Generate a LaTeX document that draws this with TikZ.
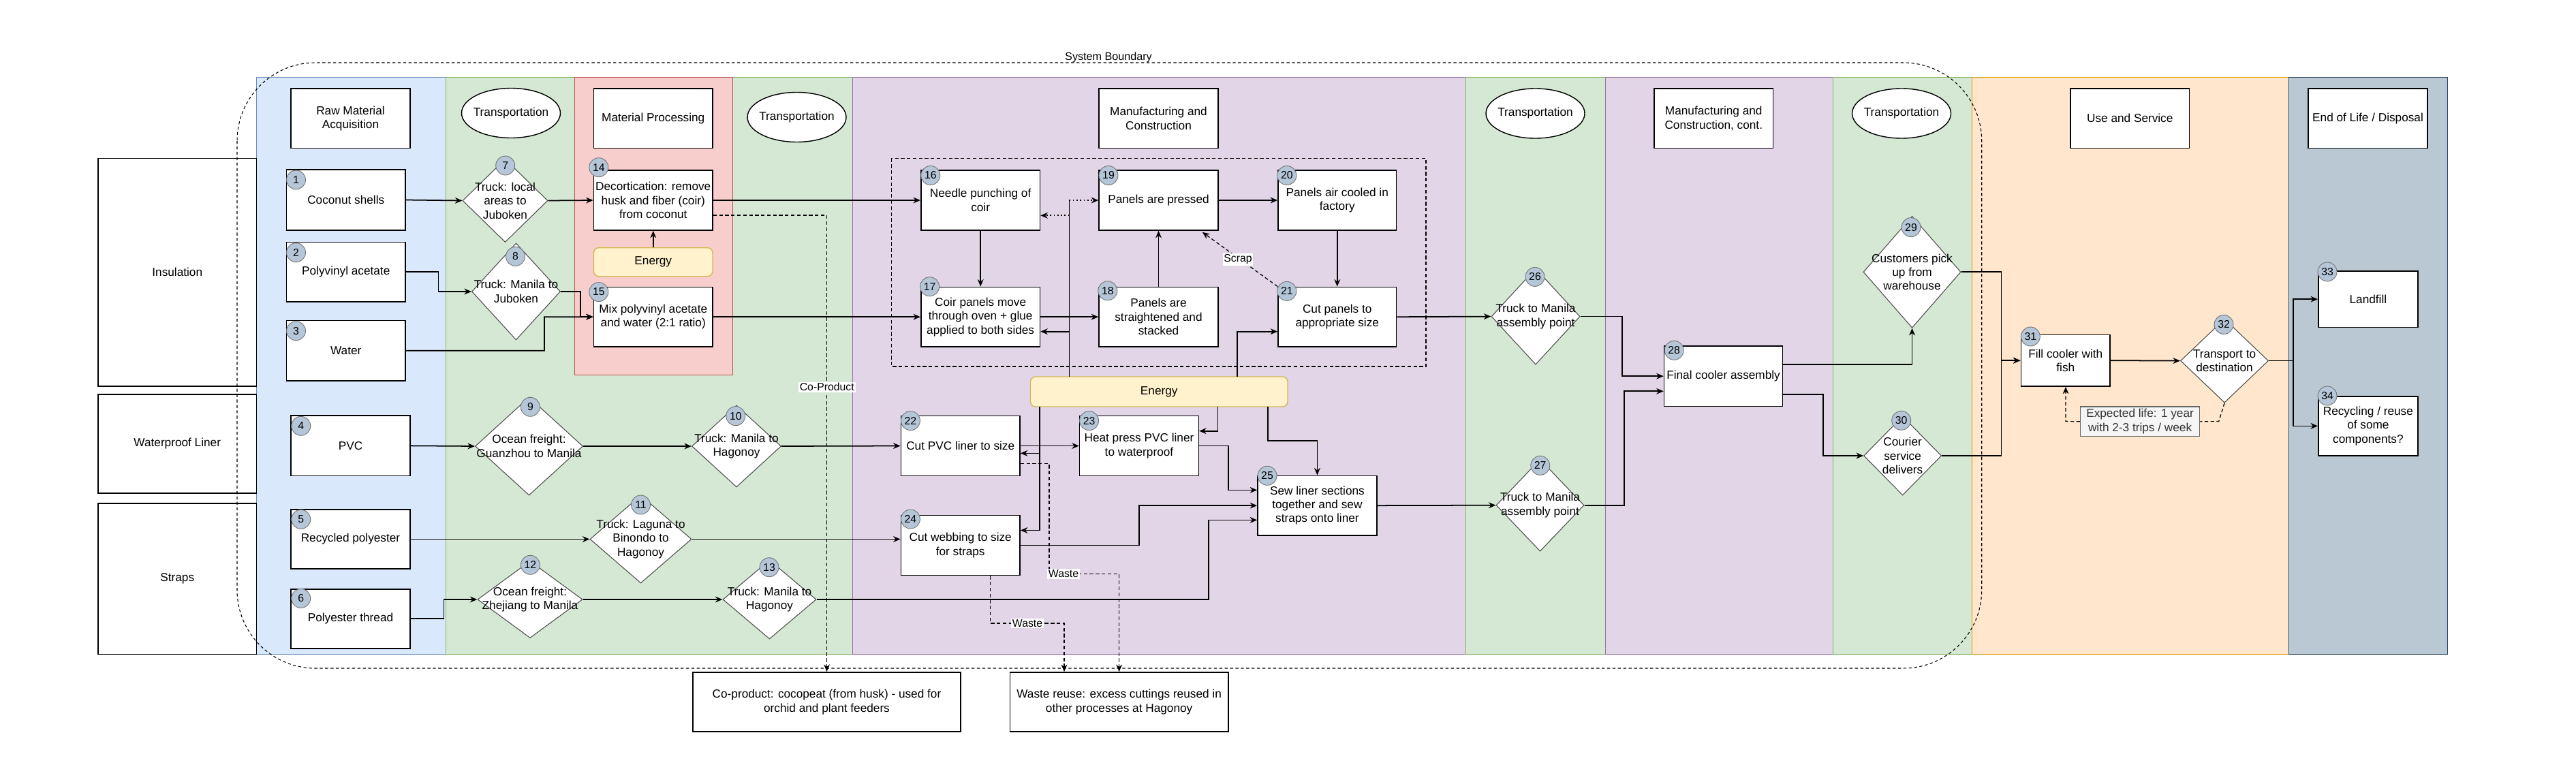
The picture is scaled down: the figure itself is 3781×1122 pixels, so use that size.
\documentclass[tikz,border=0pt]{standalone}
\usepackage{fontspec}
\setmainfont{Liberation Sans}
\usetikzlibrary{shapes.geometric,arrows.meta}
\definecolor{lblue}{HTML}{DAE8FC}\definecolor{dblue}{HTML}{6C8EBF}
\definecolor{lgreen}{HTML}{D5E8D4}\definecolor{dgreen}{HTML}{82B366}
\definecolor{lred}{HTML}{F8CECC}\definecolor{dred}{HTML}{B85450}
\definecolor{lpurple}{HTML}{E1D5E7}\definecolor{dpurple}{HTML}{9673A6}
\definecolor{lorange}{HTML}{FFE6CC}\definecolor{dorange}{HTML}{D79B00}
\definecolor{lslate}{HTML}{BAC8D3}\definecolor{dslate}{HTML}{23445D}
\definecolor{lyellow}{HTML}{FFF2CC}\definecolor{dyellow}{HTML}{D6B656}
\definecolor{numfill}{HTML}{B4C6D8}
\definecolor{expfill}{HTML}{F5F5F5}\definecolor{expdraw}{HTML}{666666}
\newcommand{\PN}[7]{\node[#1,minimum width={(#5-#3)*0.02cm},minimum height={(#6-#4)*0.02cm}] (#2) at ({(#3+#5)/2},{(#4+#6)/2}) {#7};}
\newcommand{\DN}[6]{\node[dia,minimum width={#4*0.02cm},minimum height={#5*0.02cm}] (#1) at (#2,#3) {};\node[txt] (#1t) at (#2,#3) {#6};}
\newcommand{\EN}[4]{\node[ell,minimum width=2.9cm,minimum height=1.46cm] (#1) at (#2,#3) {};\node[txt] (#1t) at (#2,#3) {#4};}
\newcommand{\CN}[4]{\node[numc] (#1) at (#2,#3) {#4};}
\tikzset{
  pbox/.style={draw=black,fill=white,line width=0.9pt,align=center,inner sep=1pt},
  rowb/.style={draw=black,fill=white,line width=0.9pt,align=center,inner sep=1pt},
  dia/.style={shape=diamond,draw=black!70,fill=white,line width=0.6pt,inner sep=0pt},
  txt/.style={align=center,inner sep=0pt},
  ell/.style={shape=ellipse,draw=black,fill=white,line width=0.8pt,inner sep=0pt},
  energy/.style={draw=dyellow,fill=lyellow,rounded corners=0.15cm,line width=0.8pt,align=center},
  expb/.style={draw=expdraw,fill=expfill,text=black!80,line width=0.7pt,align=center,inner sep=1pt},
  numc/.style={circle,draw=black!55,fill=numfill,minimum size=0.56cm,inner sep=0pt,font=\fontsize{9}{10}\selectfont,line width=0.5pt},
  arr/.style={-{Stealth[length=6pt,width=5pt]},line width=1pt},
  ln/.style={line width=1pt},
  dsh/.style={dash pattern=on 3pt off 2pt,line width=0.7pt},
  lbl/.style={fill=white,inner sep=1pt,font=\fontsize{9}{10}\selectfont},
  lane/.style={line width=0.5pt}
}
\begin{document}
\begin{tikzpicture}[x=0.02cm,y=-0.02cm,font=\fontsize{9.8}{11.6}\selectfont]
\useasboundingbox (0,0) rectangle (3781,1122);
% lanes
\filldraw[lane,fill=lblue,draw=dblue] (376.5,113) rectangle (654,960);
\filldraw[lane,fill=lgreen,draw=dgreen] (654,113) rectangle (1251,960);
\filldraw[lane,fill=lred,draw=dred] (843,113) rectangle (1075,550);
\filldraw[lane,fill=lpurple,draw=dpurple] (1251,113) rectangle (2151.5,960);
\filldraw[lane,fill=lgreen,draw=dgreen] (2151.5,113) rectangle (2356,960);
\filldraw[lane,fill=lpurple,draw=dpurple] (2356,113) rectangle (2690,960);
\filldraw[lane,fill=lgreen,draw=dgreen] (2690,113) rectangle (2894,960);
\filldraw[lane,fill=lorange,draw=dorange] (2894,113) rectangle (3359,960);
\filldraw[lane,fill=lslate,draw=dslate] (3359,113) rectangle (3592,960);
% row labels
\PN{rowb}{rIns}{144}{232.5}{376.5}{567}{Insulation}
\PN{rowb}{rWat}{144}{579}{376.5}{724}{Waterproof Liner}
\PN{rowb}{rStr}{144}{739}{376.5}{960.5}{Straps}
% system boundary
\draw[dash pattern=on 2.5pt off 2pt,line width=0.6pt,rounded corners=2.3cm] (348,92) rectangle (2908.7,981);
\node[font=\fontsize{9.2}{10}\selectfont,inner sep=1pt] (sbl) at (1627,84) {System Boundary};
% dashed group box
\draw[dash pattern=on 3pt off 2pt,line width=0.7pt] (1308.4,232.5) rectangle (2093,538);
% headers
\PN{pbox}{hRaw}{427}{130}{602}{217.5}{Raw Material\\Acquisition}
\PN{pbox}{hMat}{871.5}{130}{1046}{217.5}{Material Processing}
\PN{pbox}{hMan}{1613}{130}{1788}{217.5}{Manufacturing and\\Construction}
\PN{pbox}{hMan2}{2428}{130}{2602.5}{217.5}{Manufacturing and\\Construction, cont.}
\PN{pbox}{hUse}{3039}{130}{3213.5}{217.5}{Use and Service}
\PN{pbox}{hEnd}{3388}{130}{3563}{217.5}{End of Life / Disposal}
\EN{e1}{750}{166}{Transportation}
\EN{e2}{1169.5}{172}{Transportation}
\EN{e3}{2253.5}{166.5}{Transportation}
\EN{e4}{2791}{166.5}{Transportation}
% process boxes
\PN{pbox}{n1}{420.5}{249}{595}{338}{Coconut shells}
\PN{pbox}{n2}{420.5}{355.7}{595}{443}{Polyvinyl acetate}
\PN{pbox}{n3}{420.5}{470.7}{595}{559}{Water}
\PN{pbox}{n4}{427}{610}{602}{698.7}{PVC}
\PN{pbox}{n5}{427}{748}{602}{835}{Recycled polyester}
\PN{pbox}{n6}{427}{864.7}{602}{951.7}{Polyester thread}
\PN{pbox}{n14}{871.5}{250}{1046}{338}{Decortication: remove\\husk and fiber (coir)\\from coconut}
\PN{energy}{en1}{871.5}{363.6}{1046}{405.7}{Energy}
\PN{pbox}{n15}{871.5}{421.4}{1046}{509}{Mix polyvinyl acetate\\and water (2:1 ratio)}
\PN{pbox}{n16}{1351.8}{250}{1526.5}{338}{Needle punching of\\coir}
\PN{pbox}{n19}{1613}{250}{1788}{338}{Panels are pressed}
\PN{pbox}{n20}{1876}{250}{2049.5}{338}{Panels air cooled in\\factory}
\PN{pbox}{n17}{1351.8}{421.4}{1526.5}{509}{Coir panels move\\through oven + glue\\applied to both sides}
\PN{pbox}{n18}{1613}{421.4}{1788}{509}{Panels are\\straightened and\\stacked}
\PN{pbox}{n21}{1876}{421.4}{2049.5}{509}{Cut panels to\\appropriate size}
\PN{energy}{en2}{1512.5}{553}{1890}{597}{Energy}
\PN{pbox}{n22}{1322.4}{610.7}{1497}{698.3}{Cut PVC liner to size}
\PN{pbox}{n23}{1584.6}{610.7}{1759.3}{698.3}{Heat press PVC liner\\to waterproof}
\PN{pbox}{n24}{1322.4}{756.5}{1497}{844.5}{Cut webbing to size\\for straps}
\PN{pbox}{n25}{1846}{698.3}{2020.8}{786}{Sew liner sections\\together and sew\\straps onto liner}
\PN{pbox}{coprod}{1017}{986.7}{1410}{1074}{Co-product: cocopeat (from husk) - used for\\orchid and plant feeders}
\PN{pbox}{waste}{1482.5}{986.9}{1802.7}{1074}{Waste reuse: excess cuttings reused in\\other processes at Hagonoy}
\PN{pbox}{n28}{2442.5}{508}{2616.6}{596.4}{Final cooler assembly}
\PN{pbox}{n31}{2966.3}{491.4}{3097.2}{567}{Fill cooler with\\fish}
\PN{pbox}{n33}{3402.8}{398}{3548.9}{480.4}{Landfill}
\PN{pbox}{n34}{3402.8}{581.8}{3548.9}{669}{Recycling / reuse\\of some\\components?}
\PN{expb}{exp}{3053.4}{597}{3228.7}{640.3}{Expected life: 1 year\\with 2-3 trips / week}
% diamonds
\DN{d7}{741.5}{294.5}{125}{122}{Truck: local\\areas to\\Juboken}
\DN{d8}{757.5}{428}{130}{142}{Truck: Manila to\\Juboken}
\DN{d9}{776.5}{655}{158}{144}{Ocean freight:\\Guanzhou to Manila}
\DN{d10}{1081}{655}{131}{120}{Truck: Manila to\\Hagonoy}
\DN{d11}{940.5}{791.5}{149}{129}{Truck: Laguna to\\Binondo to\\Hagonoy}
\DN{d12}{778}{880}{154}{113}{Ocean freight:\\Zhejiang to Manila}
\DN{d13}{1129.5}{880}{137}{116}{Truck: Manila to\\Hagonoy}
\DN{d26}{2254}{464.6}{130}{141}{Truck to Manila\\assembly point}
\DN{d27}{2260.5}{741.7}{129}{135}{Truck to Manila\\assembly point}
\DN{d29}{2806.5}{399.3}{143}{164}{Customers pick\\up from\\warehouse}
\DN{d30}{2792.6}{669}{114}{116}{Courier\\service\\delivers}
\DN{d32}{3265}{529.6}{129}{123}{Transport to\\destination}
% connectors upper
\draw[arr] (n1.east) -- (d7.west);
\draw[arr] (d7.east) -- (n14.west);
\draw[arr] (n2.east) -- (643.5,399.35) |- (d8.west);
\draw[arr] (d8.east) -- (851.7,428) |- (n15.west);
\draw[arr] (n3.east) -- (799,514.85) |- (n15.west);
\draw[arr] (en1.north) -- (n14.south);
\draw[arr] (n14.east) -- (n16.west);
\draw[arr] (n15.east) -- (n17.west);
\draw[arr] (n16.south) -- (n17.north);
\draw[arr] (n17.east) -- (n18.west);
\draw[arr] (n18.north) -- (n19.south);
\draw[arr] (n19.east) -- (n20.west);
\draw[arr] (n20.south) -- (n21.north);
\draw[arr,dsh] (n21.north west) -- ([xshift=-0.48cm,yshift=-0.04cm]n19.south east);
\draw[arr] (n21.east) -- (d26.west);
% energy (big) up
\coordinate (ea) at (1569.4,553);
\coordinate (ea1) at (1569.4,294);
\coordinate (ea2) at (1569.4,316.3);
\coordinate (ea3) at (1569.4,486.7);
\draw[ln] (ea) -- (ea1);
\draw[arr,dotted] (ea1) -- (n19.west);
\draw[arr,dotted] (ea2) -- (n16.east |- ea2);
\draw[arr] (ea3) -- (n17.east |- ea3);
\coordinate (eb) at (1815.8,553);
\coordinate (eb1) at (1815.8,486.7);
\draw[arr] (eb) -- (eb1) -- (n21.west |- eb1);
% energy (big) down
\coordinate (ec) at (1525.9,597);
\coordinate (ec1) at (1525.9,665.4);
\coordinate (ec2) at (1525.9,778.5);
\draw[ln] (ec) -- (ec2);
\draw[arr] (ec1) -- (n22.east |- ec1);
\draw[arr] (ec2) -- (n24.east |- ec2);
\coordinate (ed) at (1787.5,597);
\coordinate (ed1) at (1787.5,632.7);
\draw[arr] (ed) -- (ed1) -- (n23.east |- ed1);
\coordinate (ee) at (1860.7,597);
\coordinate (ee1) at (1860.7,647);
\draw[arr] (ee) -- (ee1) -| (n25.north);
% lower lanes
\draw[arr] (n4.east) -- (d9.west);
\draw[arr] (d9.east) -- (d10.west);
\draw[arr] (d10.east) -- (n22.west);
\draw[arr] (n5.east) -- (d11.west);
\draw[arr] (d11.east) -- (n24.west |- d11.east);
\draw[arr] (n6.east) -- (651.5,908.2) |- (d12.west);
\draw[arr] (d12.east) -- (d13.west);
\coordinate (f1) at (1774,763.4);
\draw[arr] (d13.east) -| (f1) -- (n25.west |- f1);
\coordinate (f2) at (1672,742.15);
\draw[arr] (n24.east) -| (f2) -- (n25.west);
\coordinate (f3) at (1802.7,719.4);
\draw[arr] (n23.east) -| (f3) -- (n25.west |- f3);
\draw[arr] (n22.east) -- (n23.west);
\draw[arr] (n25.east) -- (d27.west);
% waste and co-product
\coordinate (w1) at (1540,680.7);
\coordinate (w2) at (1540,842.6);
\coordinate (w3) at (1642.6,842.6);
\draw[arr,dsh] (n22.east |- w1) -- (w1) -- (w2) -- (w3) -- (waste.north);
\node[lbl] (wl1) at (1561,842.6) {Waste};
\coordinate (w4) at (1453.8,915);
\coordinate (w5) at (1562,915);
\draw[arr,dsh] (n24.south -| w4) -- (w4) -- (w5) -- (w5 |- waste.north);
\node[lbl] (wl2) at (1508,915) {Waste};
\coordinate (cp1) at (1213.5,316);
\draw[arr,dsh] (n14.east |- cp1) -- (cp1) -- (cp1 |- coprod.north);
\node[lbl] (cpl) at (1213.8,568.3) {Co-Product};
\node[lbl] (scl) at (1817,380.7) {Scrap};
% right side
\coordinate (g1) at (2380.6,464.6);
\draw[arr] (d26.east) -- (g1) |- (n28.west);
\coordinate (g2) at (2383.8,574.3);
\draw[arr] (d27.east) -| (g2) -- (n28.west |- g2);
\coordinate (g3) at (2806.5,535);
\draw[arr] (n28.east |- g3) -- (g3) -- (d29.south);
\coordinate (g4) at (2676,579.3);
\draw[arr] (n28.east |- g4) -- (g4) |- (d30.west);
\coordinate (g5) at (2937.4,529.2);
\draw[arr] (d29.east) -| (g5) -- (n31.west);
\draw[arr] (d30.east) -| (g5) -- (n31.west);
\draw[arr] (n31.east) -- (d32.west);
\coordinate (g6) at (3365.7,529.6);
\draw[arr] (d32.east) -- (g6) |- (n33.west);
\draw[arr] (g6) |- (n34.west);
\coordinate (g7) at (3256.7,618.6);
\coordinate (g8) at (3032,618.6);
\draw[dsh] (d32.south) -- (g7) -- (exp.east);
\draw[arr,dsh] (exp.west) -- (g8) -- (g8 |- n31.south);
% number circles
\CN{c1}{434.5}{264}{1}
\CN{c2}{434.5}{370.7}{2}
\CN{c3}{434.5}{485.7}{3}
\CN{c4}{441.7}{625.3}{4}
\CN{c5}{441.7}{762.3}{5}
\CN{c6}{441.7}{878.4}{6}
\CN{c7}{741.7}{243}{7}
\CN{c8}{756.5}{376.4}{8}
\CN{c9}{778.4}{597.3}{9}
\CN{c10}{1079.8}{610.7}{10}
\CN{c11}{940.5}{741}{11}
\CN{c12}{778.4}{829.3}{12}
\CN{c13}{1129}{832.7}{13}
\CN{c14}{878.8}{245.7}{14}
\CN{c15}{878.8}{428.6}{15}
\CN{c16}{1365.8}{257.5}{16}
\CN{c17}{1364.6}{420.7}{17}
\CN{c18}{1625.8}{426.8}{18}
\CN{c19}{1627}{257.5}{19}
\CN{c20}{1888.8}{257.5}{20}
\CN{c21}{1888.8}{427.4}{21}
\CN{c22}{1336.4}{617.6}{22}
\CN{c23}{1598.6}{617.6}{23}
\CN{c24}{1336.4}{762}{24}
\CN{c25}{1860}{698.3}{25}
\CN{c26}{2253}{406.4}{26}
\CN{c27}{2260.7}{683.3}{27}
\CN{c28}{2457.2}{514.3}{28}
\CN{c29}{2805}{333.6}{29}
\CN{c30}{2790.7}{617.3}{30}
\CN{c31}{2980.3}{494}{31}
\CN{c32}{3264}{476.4}{32}
\CN{c33}{3416}{399}{33}
\CN{c34}{3416}{581}{34}
\end{tikzpicture}
\end{document}
